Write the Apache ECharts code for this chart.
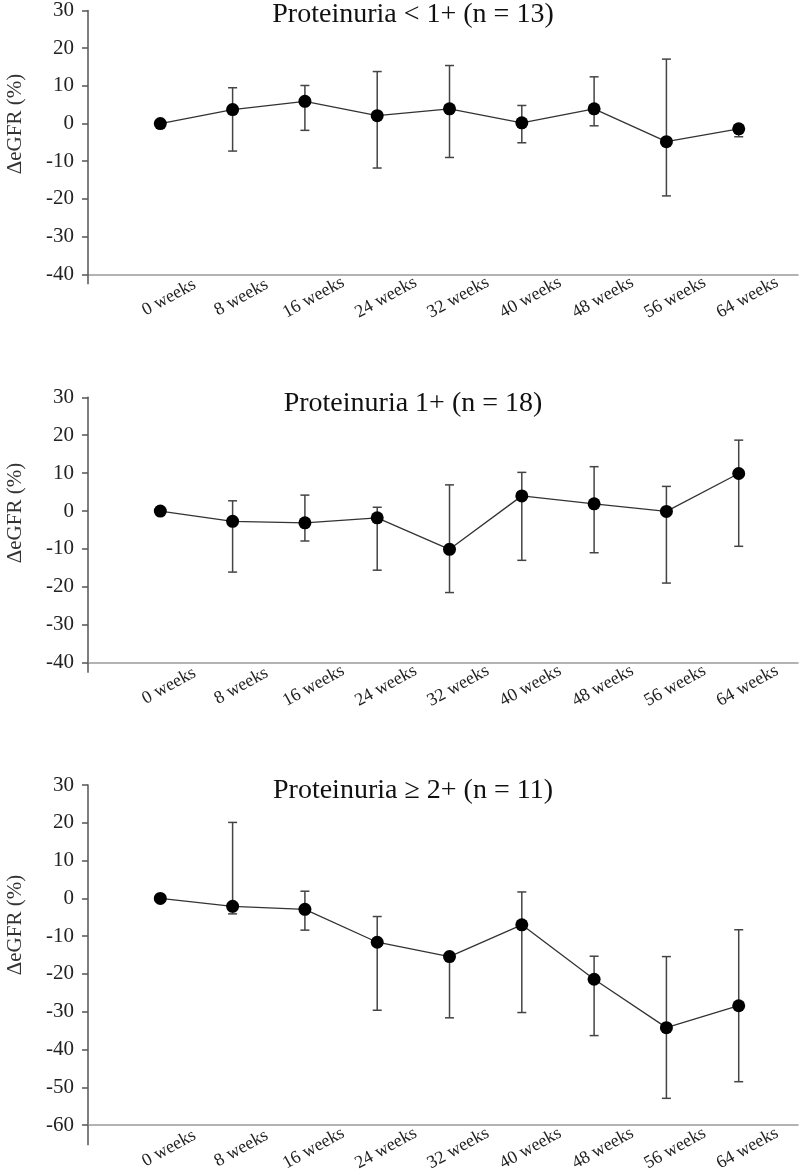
<!DOCTYPE html>
<html>
<head>
<meta charset="utf-8">
<script src="https://cdn.jsdelivr.net/npm/echarts@6/dist/echarts.min.js"></script>
<style>
html,body{margin:0;padding:0;background:#fff;}
#c{width:800px;height:1174px;}
</style>
</head>
<body>
<div id="c"></div>
<script>
// ---- data ----
const categories = ['0 weeks','8 weeks','16 weeks','24 weeks','32 weeks','40 weeks','48 weeks','56 weeks','64 weeks'];
const titles = ['Proteinuria < 1+ (n = 13)', 'Proteinuria 1+ (n = 18)', 'Proteinuria \u2265 2+ (n = 11)'];
const yName = '\u0394eGFR (%)';

const mean1  = [0, 3.7, 5.9, 2.1, 3.9, 0.2, 3.9, -4.8, -1.4];
const upper1 = [null, 9.5, 10.1, 13.8, 15.4, 4.8, 12.4, 17.1, -0.6];
const lower1 = [null, -7.3, -1.8, -11.8, -9.0, -5.1, -0.6, -19.2, -3.5];

const mean2  = [0, -2.7, -3.1, -1.8, -10.1, 4.0, 1.9, -0.1, 9.9];
const upper2 = [null, 2.7, 4.2, 1.0, 6.9, 10.2, 11.7, 6.5, 18.7];
const lower2 = [null, -16.1, -7.9, -15.6, -21.5, -13.0, -11.0, -19.0, -9.3];

const mean3  = [0, -2.1, -2.9, -11.6, -15.4, -7.0, -21.4, -34.2, -28.4];
const upper3 = [null, 20.1, 1.9, -4.8, -14.6, 1.7, -15.3, -15.4, -8.3];
const lower3 = [null, -4.1, -8.4, -29.6, -31.6, -30.2, -36.3, -52.9, -48.5];

const yMins = [-40, -40, -60];
const yMaxs = [30, 30, 30];
const yInterval = 10;

// ---- layout ----
const FONT = '"Liberation Serif", "Times New Roman", serif';
const panels = [
  {top: 10, height: 264.3, tickLen: 10, titleTop: 1, nameY: 124},
  {top: 397.3, height: 265.4, tickLen: 10, titleTop: 390, nameY: 513},
  {top: 785, height: 340.7, tickLen: 20, titleTop: 777, nameY: 925}
];
const means = [mean1, mean2, mean3];
const uppers = [upper1, upper2, upper3];
const lowers = [lower1, lower2, lower3];

const chart = echarts.init(document.getElementById('c'), null, {renderer: 'canvas'});

const grid = [], xAxis = [], yAxis = [], series = [], title = [], graphic = [];
panels.forEach((p, k) => {
  grid.push({left: 88, width: 710, top: p.top, height: p.height, containLabel: false});
  xAxis.push({
    type: 'value', gridIndex: k, min: -1, max: 8.82, interval: 1,
    axisLine: {show: true, onZero: false, lineStyle: {color: '#9a9a9a', width: 1.5}},
    axisTick: {show: true, customValues: [-1], length: p.tickLen, lineStyle: {color: '#555', width: 1.5}},
    splitLine: {show: false},
    axisLabel: {
      customValues: [0,1,2,3,4,5,6,7,8],
      formatter: v => categories[Math.round(v)] || '',
      rotate: 29, align: 'center', verticalAlign: 'middle',
      margin: 28, padding: [0, 0, 0, 20],
      fontFamily: FONT, fontSize: 18, color: '#222'
    }
  });
  yAxis.push({
    type: 'value', gridIndex: k, min: yMins[k], max: yMaxs[k], interval: yInterval,
    axisLine: {show: true, onZero: false, lineStyle: {color: '#555', width: 1.5}},
    axisTick: {show: true, length: 6, lineStyle: {color: '#555', width: 1.5}},
    splitLine: {show: false},
    axisLabel: {fontFamily: FONT, fontSize: 21, color: '#222', margin: 14}
  });
  const ebData = [];
  uppers[k].forEach((u, i) => { if (u !== null) ebData.push([i, u, lowers[k][i]]); });
  series.push({
    type: 'custom', xAxisIndex: k, yAxisIndex: k, z: 1,
    data: ebData,
    encode: {x: 0, y: [1, 2]},
    renderItem: (params, api) => {
      const x = api.value(0);
      const a = api.coord([x, api.value(1)]);
      const b = api.coord([x, api.value(2)]);
      const hw = 4.5;
      const st = {stroke: '#444', lineWidth: 1.5};
      return {type: 'group', children: [
        {type: 'line', shape: {x1: a[0], y1: a[1], x2: b[0], y2: b[1]}, style: st},
        {type: 'line', shape: {x1: a[0]-hw, y1: a[1], x2: a[0]+hw, y2: a[1]}, style: st},
        {type: 'line', shape: {x1: b[0]-hw, y1: b[1], x2: b[0]+hw, y2: b[1]}, style: st}
      ]};
    }
  });
  series.push({
    type: 'line', xAxisIndex: k, yAxisIndex: k, z: 3,
    data: means[k].map((v, i) => [i, v]),
    symbol: 'circle', symbolSize: 13,
    itemStyle: {color: '#000'},
    lineStyle: {color: '#333', width: 1.3},
    animation: false
  });
  title.push({
    text: titles[k], left: 413, top: p.titleTop, textAlign: 'center', padding: 0,
    textStyle: {fontFamily: FONT, fontSize: 28, fontWeight: 'normal', color: '#111'}
  });
  graphic.push({
    type: 'text', x: 15, y: p.nameY, rotation: Math.PI / 2,
    style: {text: yName, font: '21px ' + FONT, fill: '#333', align: 'center', verticalAlign: 'middle'}
  });
});

chart.setOption({
  animation: false,
  backgroundColor: '#fff',
  title, grid, xAxis, yAxis, series, graphic
});
</script>
</body>
</html>
